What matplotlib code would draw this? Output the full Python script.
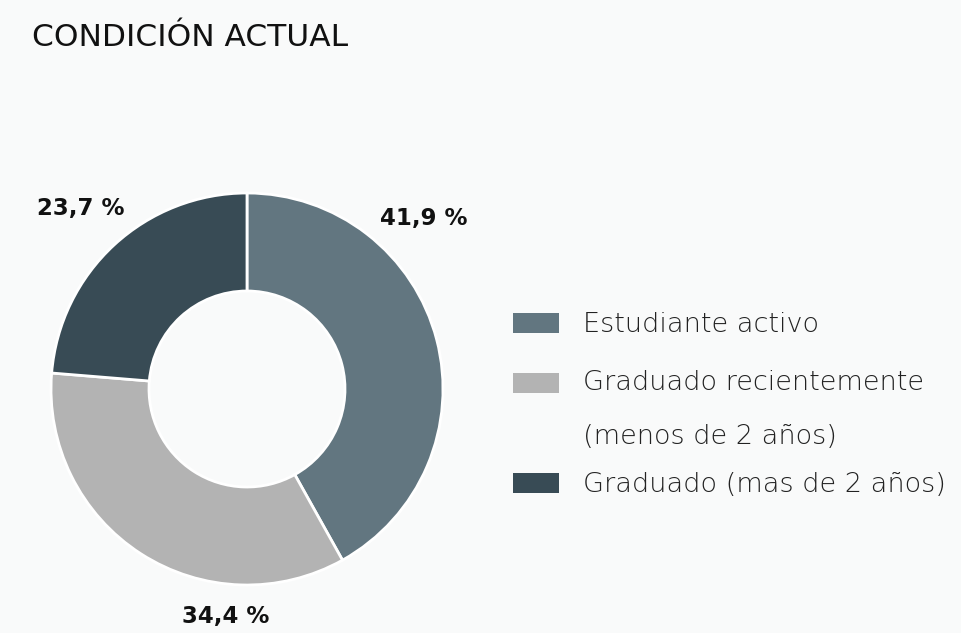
import matplotlib
matplotlib.use("Agg")
import matplotlib.pyplot as plt
from matplotlib.patches import Rectangle

categories = ["Estudiante activo", "Graduado recientemente\n(menos de 2 años)", "Graduado (mas de 2 años)"]
values = [41.9, 34.4, 23.7]
value_labels = ["41,9 %", "34,4 %", "23,7 %"]
colors = ["#627680", "#b3b3b3", "#384b55"]
title = "CONDICIÓN ACTUAL"

W, H = 961, 633
bg = "#f9fafa"
fig = plt.figure(figsize=(W / 100, H / 100), dpi=100, facecolor=bg)

cx, cy, R = 247, 389, 196
half = 200
ax = fig.add_axes([(cx - half) / W, (H - cy - half) / H, 2 * half / W, 2 * half / H])
ax.set_facecolor(bg)
ax.pie(values, colors=colors, startangle=90, counterclock=False, radius=1.0,
       wedgeprops=dict(width=0.5, edgecolor="white", linewidth=2))
lim = half / R
ax.set_xlim(-lim, lim)
ax.set_ylim(-lim, lim)
ax.set_aspect("equal")
ax.axis("off")

fig.text(32 / W, 1 - 38 / H, title, fontsize=22.5, family="DejaVu Sans", weight="normal",
         color="#111111", ha="left", va="center")

label_pos = [(424, 219), (226, 616), (81, 209)]
for lab, (x, y) in zip(value_labels, label_pos):
    fig.text(x / W, 1 - y / H, lab, fontsize=16.5, family="DejaVu Sans", weight="bold",
             color="#111111", ha="center", va="center")

# legend
leg_rows = [(323, 325), (383, 383), (483, 485)]
for cat, col, (py, ty) in zip(categories, colors, leg_rows):
    fig.patches.append(Rectangle((513 / W, 1 - (py + 10) / H), 46 / W, 20 / H,
                                 transform=fig.transFigure, facecolor=col, edgecolor="none"))
    lines = cat.split("\n")
    for i, ln in enumerate(lines):
        fig.text(583 / W, 1 - (ty + i * 54) / H, ln, fontsize=19.5, family="DejaVu Sans",
                 weight="light", color="#222222", ha="left", va="center")

fig.savefig("out.png", dpi=100, facecolor=bg)
